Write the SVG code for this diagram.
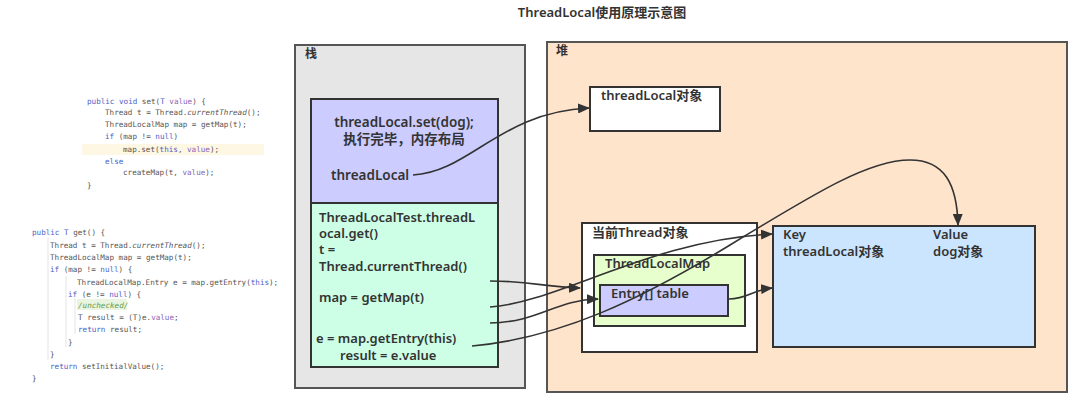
<svg xmlns="http://www.w3.org/2000/svg" width="1087" height="406" viewBox="0 0 1087 406">
<defs>
<marker id="arr" viewBox="0 0 12 10" refX="11" refY="5" markerWidth="12" markerHeight="10" markerUnits="userSpaceOnUse" orient="auto">
<path d="M0,0 L12,5 L0,10 Z" fill="#333"/>
</marker>
<style>
.code{font-family:"DejaVu Sans Mono","Liberation Mono",monospace;font-size:7.6px;fill:#555;}
.kw{fill:#4b62c8;}
.it{font-style:italic;}
.pm{fill:#8a63b8;}
.cm{fill:#5f9a48;font-style:italic;}
.lbl{font-family:"Noto Sans","Noto Sans CJK SC",sans-serif;font-weight:600;fill:#333;}
.box{stroke:#333;stroke-width:2;}
.cont{stroke:#555;stroke-width:2;}
.conn{fill:none;stroke:#333;stroke-width:1.6;marker-end:url(#arr);}
</style>
</defs>
<rect width="1087" height="406" fill="#ffffff"/>

<g id="title">
<text x="602" y="17" text-anchor="middle" font-family="Noto Sans,Noto Sans CJK SC,sans-serif" font-size="13" font-weight="600" fill="#333">ThreadLocal使用原理示意图</text>
</g>

<g id="code-set">
<rect x="82" y="144" width="182" height="11" fill="#fdf7e3"/>
<text class="code" x="87" y="104"><tspan class="kw">public void</tspan> set(<tspan class="kw">T</tspan> <tspan class="pm">value</tspan>) {</text>
<text class="code" x="105" y="115">Thread t = Thread.<tspan class="it">currentThread</tspan>();</text>
<text class="code" x="105" y="127">ThreadLocalMap map = getMap(t);</text>
<text class="code" x="105" y="139"><tspan class="kw">if</tspan> (map != <tspan class="kw">null</tspan>)</text>
<text class="code" x="123" y="152">map.set(<tspan class="kw">this</tspan>, <tspan class="pm">value</tspan>);</text>
<text class="code" x="105" y="164"><tspan class="kw">else</tspan></text>
<text class="code" x="123" y="175">createMap(t, <tspan class="pm">value</tspan>);</text>
<text class="code" x="87" y="188">}</text>
</g>

<g id="code-get">
<line x1="48" y1="238" x2="48" y2="360" stroke="#e4e4e4" stroke-width="1"/>
<line x1="66" y1="276" x2="66" y2="347" stroke="#e4e4e4" stroke-width="1"/>
<line x1="75" y1="298" x2="75" y2="334" stroke="#e4e4e4" stroke-width="1"/>
<rect x="77" y="299" width="50" height="11" fill="#e9f4e1"/>
<text class="code" x="32" y="235"><tspan class="kw">public T</tspan> get() {</text>
<text class="code" x="50" y="248">Thread t = Thread.<tspan class="it">currentThread</tspan>();</text>
<text class="code" x="50" y="260">ThreadLocalMap map = getMap(t);</text>
<text class="code" x="50" y="272"><tspan class="kw">if</tspan> (map != <tspan class="kw">null</tspan>) {</text>
<text class="code" x="77" y="285">ThreadLocalMap.Entry e = map.getEntry(<tspan class="kw">this</tspan>);</text>
<text class="code" x="68" y="297"><tspan class="kw">if</tspan> (e != <tspan class="kw">null</tspan>) {</text>
<text class="code cm" x="78" y="308">/unchecked/</text>
<text class="code" x="78" y="320">T result = (T)e.<tspan class="pm">value</tspan>;</text>
<text class="code" x="78" y="332"><tspan class="kw">return</tspan> result;</text>
<text class="code" x="68" y="345">}</text>
<text class="code" x="50" y="357">}</text>
<text class="code" x="50" y="369"><tspan class="kw">return</tspan> setInitialValue();</text>
<text class="code" x="32" y="381">}</text>
</g>

<g id="stack">
<rect class="cont" x="295" y="45" width="230" height="343" fill="#e6e6e6"/>
<text class="lbl" x="305" y="58" font-size="12">栈</text>
</g>

<g id="heap">
<rect class="cont" x="547" y="42" width="520" height="350" fill="#ffe4cc"/>
<text class="lbl" x="556" y="55" font-size="12">堆</text>
</g>

<g id="frame-set">
<rect class="box" x="311" y="99" width="187" height="104" fill="#ccccff"/>
<text class="lbl" x="404" y="127" font-size="13.5" text-anchor="middle">threadLocal.set(dog);</text>
<text class="lbl" x="404" y="144" font-size="13.5" text-anchor="middle">执行完毕，内存布局</text>
<text class="lbl" x="331" y="180" font-size="13.5">threadLocal</text>
</g>

<g id="frame-get">
<rect class="box" x="311" y="203" width="187" height="164" fill="#ccffe6"/>
<text class="lbl" x="319" y="222" font-size="13">ThreadLocalTest.threadL</text>
<text class="lbl" x="319" y="238" font-size="13">ocal.get()</text>
<text class="lbl" x="319" y="254" font-size="13">t =</text>
<text class="lbl" x="319" y="271" font-size="13">Thread.currentThread()</text>
<text class="lbl" x="319" y="302" font-size="13">map = getMap(t)</text>
<text class="lbl" x="316" y="343" font-size="13">e = map.getEntry(this)</text>
<text class="lbl" x="340" y="360" font-size="13">result = e.value</text>
</g>

<g id="threadlocal-obj">
<rect class="box" x="590" y="87" width="130" height="44" fill="#ffffff"/>
<text class="lbl" x="601" y="100" font-size="13">threadLocal对象</text>
</g>

<g id="thread-obj">
<rect class="box" x="582" y="223" width="175" height="129" fill="#ffffff"/>
<text class="lbl" x="592" y="237" font-size="13" font-weight="500">当前Thread对象</text>
</g>

<g id="threadlocalmap">
<rect class="box" x="594" y="255" width="151" height="71" fill="#e6ffcc"/>
<text class="lbl" x="605" y="268" font-size="13">ThreadLocalMap</text>
</g>

<g id="entry-table">
<rect class="box" x="600" y="285" width="128" height="31" fill="#ccccff"/>
<text class="lbl" x="611" y="298" font-size="13">Entry[] table</text>
</g>

<g id="entry">
<rect class="box" x="773" y="226" width="262" height="121" fill="#cce5ff"/>
<text class="lbl" x="783" y="239" font-size="13">Key</text>
<text class="lbl" x="783" y="256" font-size="13">threadLocal对象</text>
<text class="lbl" x="933" y="239" font-size="13">Value</text>
<text class="lbl" x="933" y="256" font-size="13">dog对象</text>
</g>

<g id="connectors">
<path class="conn" d="M413,175 C470,172 500,112 589,108"/>
<path class="conn" d="M490,281 C530,281 545,287 580,288"/>
<path class="conn" d="M490,307 C560,302 650,240 772,234"/>
<path class="conn" d="M490,323 C540,322 555,300 598,299"/>
<path class="conn" d="M472,346 C560,338 640,300 730,245 C820,190 870,160 910,160 C945,160 957,185 958,225"/>
<path class="conn" d="M729,299 C748,299 752,290 772,288"/>
</g>
</svg>
